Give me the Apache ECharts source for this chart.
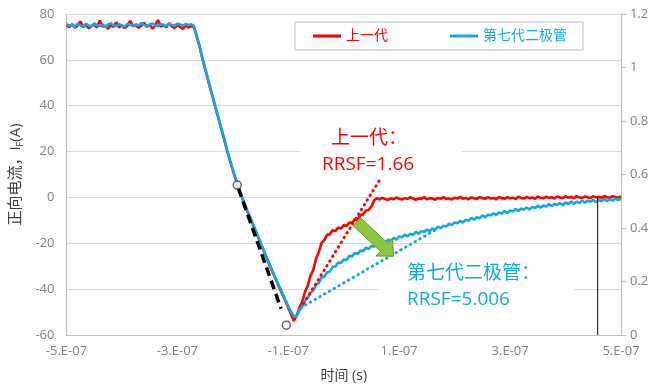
<!DOCTYPE html>
<html><head><meta charset="utf-8">
<script src="https://cdn.jsdelivr.net/npm/echarts@6/dist/echarts.min.js"></script>
<style>html,body{margin:0;padding:0;background:#fff}#c{width:665px;height:390px}</style>
</head><body><div id="c"></div>
<script>
// time in ns
const timeNs = [-500,-495,-490,-485,-480,-475,-470,-465,-460,-455,-450,-445,-440,-435,-430,-425,-420,-415,-410,-405,
-400,-395,-390,-385,-380,-375,-370,-365,-360,-355,-350,-345,-340,-335,-330,-325,-320,-315,-310,-305,
-300,-295,-290,-285,-280,-275,-270,-265,-260,-255,-250,-245,-240,-235,-230,-225,-220,-215,-210,-205,
-200,-195,-190,-185,-180,-175,-170,-165,-160,-155,-150,-145,-140,-135,-130,-125,-120,-115,-110,-105,
-100,-95,-90,-85,-80,-75,-70,-65,-60,-55,-50,-45,-40,-35,-30,-25,-20,-15,-10,-5,
0,5,10,15,20,25,30,35,40,45,50,55,60,65,70,75,80,85,90,95,
100,105,110,115,120,125,130,135,140,145,150,155,160,165,170,175,180,185,190,195,
200,205,210,215,220,225,230,235,240,245,250,255,260,265,270,275,280,285,290,295,
300,305,310,315,320,325,330,335,340,345,350,355,360,365,370,375,380,385,390,395,
400,405,410,415,420,425,430,435,440,445,450,455,460,465,470,475,480,485,490,495,500];

const prevGen = [75.1,74.2,75.6,74.0,74.9,76.8,74.3,75.2,73.8,74.7,75.4,74.1,77.2,74.5,74.9,73.6,75.3,74.4,76.5,74.2,75.0,73.9,74.8,77.0,74.6,75.3,74.0,74.9,76.2,74.3,75.4,73.7,74.8,77.4,74.5,75.1,74.2,76.0,74.6,73.8,75.2,74.4,73.5,75.0,74.1,74.7,
74.2,70.1,65.8,60.7,56.0,51.5,46.8,42.6,38.0,33.7,29.2,24.8,20.1,15.9,11.8,8.0,4.6,1.0,-2.3,-5.4,-8.2,-11.1,-14.0,-17.0,-19.9,-22.9,-25.8,-28.7,-31.6,-34.4,-37.1,-39.9,-42.6,-45.4,-48.1,-51.0,-53.9,-51.6,
-48.2,-45.6,-41.3,-38.6,-34.2,-31.7,-26.8,-23.9,-19.8,-18.6,-16.3,-16.1,-14.3,-14.7,-13.1,-13.6,-12.0,-12.5,-11.0,-11.1,-9.6,-9.7,-7.7,-7.4,-5.7,-5.5,-3.9,
-1.2,-0.3,-0.9,-0.2,-0.7,-1.1,-0.4,-0.8,0.0,-0.6,-0.9,-0.3,-0.7,0.1,-0.5,-1.0,-0.4,-0.6,0.2,-0.8,-0.3,-0.5,-1.0,-0.2,-0.6,0.1,-0.7,-0.4,-0.9,-0.1,-0.5,0.3,-0.6,-0.2,-0.8,0.0,-0.4,-0.7,0.2,-0.3,-0.6,0.1,-0.5,-0.2,-0.8,0.2,-0.3,-0.6,0.1,-0.4,-0.1,-0.7,0.3,-0.2,-0.5,0.2,-0.3,0.0,-0.6,0.4,-0.1,-0.4,0.3,-0.2,0.1,-0.5,0.4,0.0,-0.3,0.5,-0.1,0.2,-0.4,0.6,0.0,-0.2,0.4,0.1,-0.3,0.5,0.0,0.3,-0.2,0.6,0.1,-0.1,0.5,0.2,-0.1,0.4];

const gen7 = [75.6,74.9,75.3,74.4,75.8,75.0,74.5,75.7,75.1,74.6,75.9,75.2,74.8,75.5,74.3,75.4,76.0,75.1,74.7,75.6,75.0,74.5,75.8,75.2,74.9,75.5,75.0,76.1,75.3,74.6,75.4,75.9,75.1,74.7,75.6,75.2,74.8,75.7,75.3,74.9,75.8,75.4,75.0,75.6,75.2,75.5,
74.8,70.5,66.2,61.0,56.4,51.8,47.3,42.9,38.4,34.0,29.6,25.0,20.5,16.2,12.1,8.4,4.9,1.3,-2.0,-5.0,-7.9,-10.8,-13.7,-16.7,-19.6,-22.6,-25.5,-28.4,-31.2,-34.0,-36.7,-39.4,-42.1,-44.8,-47.4,-49.8,-51.6,-51.9,
-49.1,-47.8,-45.0,-43.8,-41.5,-40.7,-38.3,-37.3,-35.0,-34.6,-32.6,-32.4,-30.3,-30.1,-28.4,-28.6,-27.1,-27.3,-25.5,-25.7,-24.2,-24.7,-23.2,-23.4,-21.9,-22.5,-21.1,-21.5,-19.9,-20.2,-19.0,-19.7,-18.4,-18.9,-17.6,-18.4,-17.0,-17.4,-16.2,-17.0,-15.9,-16.3,-15.0,-15.9,-14.7,-15.1,-14.0,-14.8,-13.5,-14.0,-12.7,-13.4,-12.3,-12.7,-11.4,-12.1,-10.9,-11.3,-10.2,-11.0,-9.7,-10.2,-8.9,-9.7,-8.6,-9.1,-7.8,-8.7,-7.5,-7.9,-6.9,-7.7,-6.5,-7.1,-5.9,-6.8,-5.7,-6.2,-5.0,-5.9,-4.8,-5.3,-4.4,-5.3,-4.1,-4.7,-3.5,-4.5,-3.5,-4.0,-2.9,-3.8,-2.8,-3.3,-2.4,-3.4,-2.2,-2.9,-1.8,-2.8,-1.9,-2.5,-1.3,-2.3,-1.3,-1.9,-1.1,-2.1,-1.0,-1.7,-0.6,-1.7,-0.8,-1.4,-0.5,-1.2,-0.5];

// helper lines (ns, A)
const prevTangent = [[-72, -46.2], [67, 8.5]];
const gen7Tangent = [[-69, -46.9], [165, -14.2]];
const fallSlope = [[-190, 4.0], [-113, -48.5]];
const fallMarks = [[-192, 5.4], [-103.5, -55.7]];
const cursorLine = [[458, 0.3], [458, -60]];
const arrowFrom = [23.5, -10.6];
const arrowTo = [90, -25.6];

const seriesNames = ['上一代', '第七代二极管'];
const xTickLabels = {'-500':'-5.E-07','-300':'-3.E-07','-100':'-1.E-07','100':'1.E-07','300':'3.E-07','500':'5.E-07'};
const noteRed = ['上一代：', 'RRSF=1.66'];
const noteBlue = ['第七代二极管：', 'RRSF=5.006'];

const RED = '#FF0000', BLUE = '#12A8E6';
const FONT = "'Open Sans','Noto Sans CJK SC',sans-serif";

const chart = echarts.init(document.getElementById('c'), null, {renderer: 'canvas'});
const pairs = arr => timeNs.map((t, i) => [t, arr[i]]);

chart.setOption({
  animation: false,
  backgroundColor: '#fff',
  grid: {left: 66, right: 44, top: 14, bottom: 55},
  legend: {
    data: [{name: seriesNames[0], textStyle: {color: RED}}, {name: seriesNames[1], textStyle: {color: BLUE}}],
    left: 295, top: 22, padding: [7, 16, 7, 18], itemGap: 62,
    icon: 'rect', itemWidth: 28, itemHeight: 3,
    borderColor: '#BFBFBF', borderWidth: 1, backgroundColor: '#fff',
    textStyle: {fontSize: 14, fontFamily: FONT}
  },
  xAxis: {
    type: 'value', min: -500, max: 500, interval: 100,
    name: '时间 (s)', nameLocation: 'middle', nameGap: 34,
    nameTextStyle: {color: '#404040', fontSize: 14, fontFamily: FONT},
    axisLine: {show: true, onZero: false, lineStyle: {color: '#BFBFBF'}},
    axisTick: {show: false},
    splitLine: {show: false},
    axisLabel: {color: '#808080', fontSize: 13, fontFamily: FONT, margin: 10, showMinLabel: true, showMaxLabel: true,
      formatter: v => xTickLabels[String(Math.round(v))] || ''}
  },
  yAxis: [{
    type: 'value', min: -60, max: 80, interval: 20,
    name: '正向电流，I{sub|F}(A)', nameLocation: 'middle', nameGap: 38,
    nameTextStyle: {color: '#404040', fontSize: 15, fontFamily: FONT,
      rich: {sub: {fontSize: 9, color: '#404040', padding: [9, 0, 0, 0], fontFamily: FONT}}},
    axisLine: {show: true, onZero: false, lineStyle: {color: '#BFBFBF'}},
    axisTick: {show: false},
    splitLine: {lineStyle: {color: '#D9D9D9', width: 1}},
    axisLabel: {color: '#808080', fontSize: 13, fontFamily: FONT, margin: 12}
  }, {
    type: 'value', min: 0, max: 1.2, interval: 0.2, position: 'right',
    axisLine: {show: true, onZero: false, lineStyle: {color: '#BFBFBF'}},
    axisTick: {show: true, length: 5, lineStyle: {color: '#BFBFBF'}},
    splitLine: {show: false},
    axisLabel: {color: '#808080', fontSize: 13, fontFamily: FONT, margin: 9}
  }],
  series: [
    {name: seriesNames[0], type: 'line', data: pairs(prevGen), showSymbol: false, symbol: 'none',
      lineStyle: {color: RED, width: 2.6}, itemStyle: {color: RED}, z: 2},
    {name: seriesNames[1], type: 'line', data: pairs(gen7), showSymbol: false, symbol: 'none',
      lineStyle: {color: BLUE, width: 2.6}, itemStyle: {color: BLUE}, z: 3},
    {name: 'prevTangent', type: 'line', data: prevTangent, showSymbol: false, symbol: 'none',
      lineStyle: {color: RED, width: 3, type: [0.5, 5], cap: 'round'}, z: 4},
    {name: 'gen7Tangent', type: 'line', data: gen7Tangent, showSymbol: false, symbol: 'none',
      lineStyle: {color: BLUE, width: 3, type: [0.5, 5], cap: 'round'}, z: 4},
    {name: 'fallSlope', type: 'line', data: fallSlope, showSymbol: false, symbol: 'none',
      lineStyle: {color: '#000', width: 3.5, type: [9, 5]}, z: 5},
    {name: 'fallMarks', type: 'scatter', data: fallMarks, symbol: 'circle', symbolSize: 8,
      itemStyle: {color: '#fff', borderColor: '#404040', borderWidth: 1.5}, z: 6},
    {name: 'cursor', type: 'line', data: cursorLine, showSymbol: false, symbol: 'none',
      lineStyle: {color: '#000', width: 1}, z: 6}
  ]
});

// annotations
const p0 = chart.convertToPixel({gridIndex: 0}, arrowFrom);
const p1 = chart.convertToPixel({gridIndex: 0}, arrowTo);
const dx = p1[0] - p0[0], dy = p1[1] - p0[1], L = Math.hypot(dx, dy);
const ux = dx / L, uy = dy / L, nx = -uy, ny = ux;
const headLen = 13, sw = 5.5, hw = 12;
const bx = p1[0] - ux * headLen, by = p1[1] - uy * headLen;
const arrowPts = [
  [p0[0] + nx * sw, p0[1] + ny * sw], [bx + nx * sw, by + ny * sw], [bx + nx * hw, by + ny * hw],
  [p1[0], p1[1]], [bx - nx * hw, by - ny * hw], [bx - nx * sw, by - ny * sw], [p0[0] - nx * sw, p0[1] - ny * sw]
];

chart.setOption({
  graphic: [
    {type: 'rect', z: 1, shape: {x: 300, y: 122, width: 162, height: 56}, style: {fill: '#fff'}},
    {type: 'rect', z: 1, shape: {x: 378, y: 256, width: 195, height: 64}, style: {fill: '#fff'}},
    {type: 'text', z: 10, style: {text: noteRed[0], x: 331, y: 139, fill: RED, fontSize: 19, fontFamily: FONT, verticalAlign: 'middle'}},
    {type: 'text', z: 10, style: {text: noteRed[1], x: 322, y: 165, fill: RED, fontSize: 19, fontFamily: FONT, verticalAlign: 'middle'}},
    {type: 'text', z: 10, style: {text: noteBlue[0], x: 407, y: 274, fill: BLUE, fontSize: 19, fontFamily: FONT, verticalAlign: 'middle'}},
    {type: 'text', z: 10, style: {text: noteBlue[1], x: 407, y: 300, fill: BLUE, fontSize: 19, fontFamily: FONT, verticalAlign: 'middle'}},
    {type: 'polygon', z: 10, shape: {points: arrowPts}, style: {fill: '#8DC63F', stroke: '#5E9E2E', lineWidth: 1}}
  ]
});
</script>
</body></html>
